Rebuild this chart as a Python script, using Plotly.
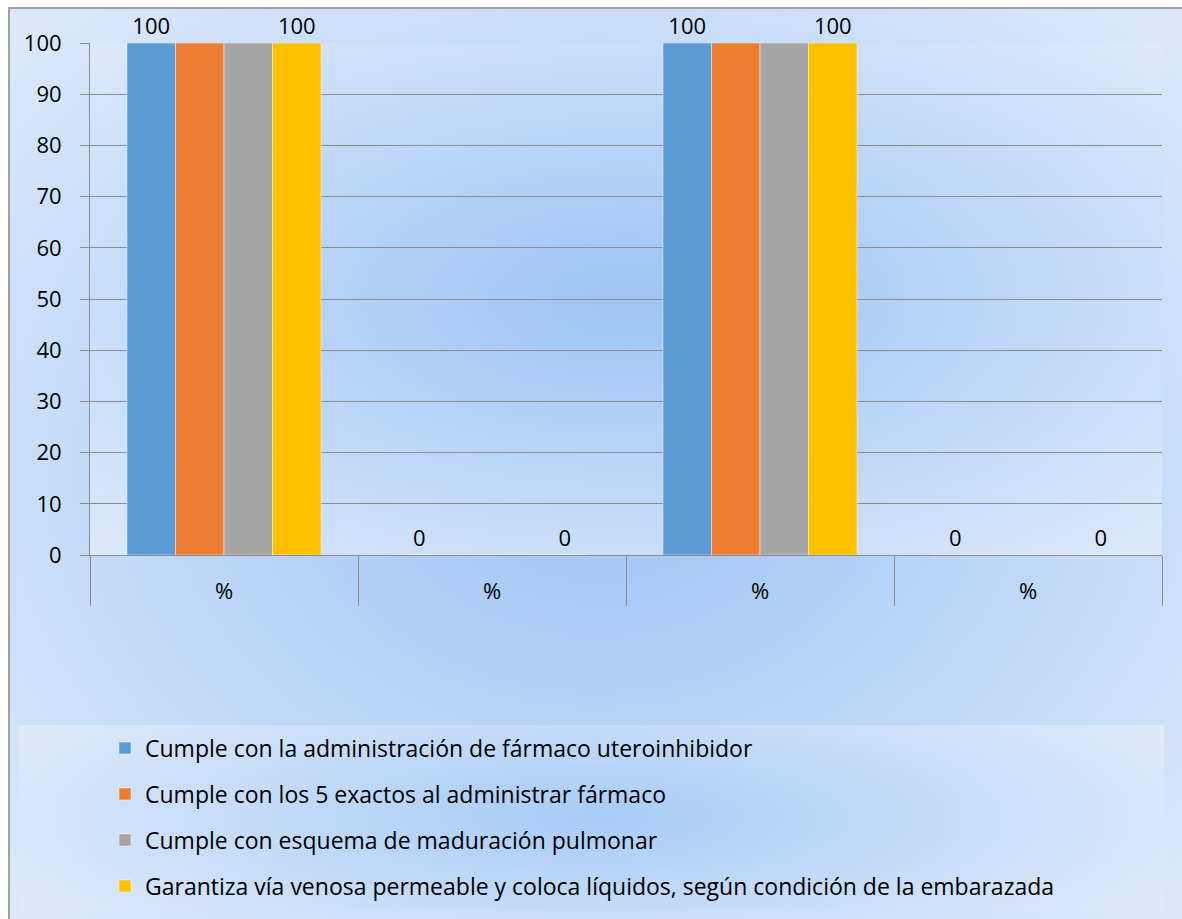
import base64
import struct
import zlib

import numpy as np
import plotly.graph_objects as go

# ---- data -------------------------------------------------------------
tick_labels = ["%", "%", "%", "%"]
series_names = [
    "Cumple con la administración de fármaco uteroinhibidor",
    "Cumple con los 5 exactos al administrar fármaco",
    "Cumple con esquema de maduración pulmonar",
    "Garantiza vía venosa permeable y coloca líquidos, según condición de la embarazada",
]
administracion = [100, 0, 100, 0]
cinco_exactos = [100, 0, 100, 0]
maduracion = [100, 0, 100, 0]
via_venosa = [100, 0, 100, 0]
series_values = [administracion, cinco_exactos, maduracion, via_venosa]
labelled = [True, False, False, True]

# ---- styling ----------------------------------------------------------
colors = ["#5B9BD5", "#ED7D31", "#A5A5A5", "#FFC000"]
FONT = "Open Sans"
W, H = 1182, 919
L, R, T, B = 90, 20, 43, 364          # plot-area margins in px
PW, PH = W - L - R, H - T - B


def px_x(x):
    return (x - L) / PW


def px_y(y):
    return (H - B - y) / PH


# ---- gradient backdrop (chart area, plot area, legend box) ------------
yy, xx = np.mgrid[0:H, 0:W].astype(float)
inner = np.array([157, 196, 245], float)
outer = np.array([222, 234, 251], float)


def radial(x0, y0, x1, y1, c_in, c_out, wy=1.0):
    cx, cy = (x0 + x1) / 2, (y0 + y1) / 2
    hw, hh = (x1 - x0) / 2, (y1 - y0) / 2
    r = np.sqrt(((xx - cx) / hw) ** 2 + wy * ((yy - cy) / hh) ** 2) / np.sqrt(1 + wy)
    r = np.clip(r, 0, 1)[..., None]
    return c_in * (1 - r) + c_out * r


img = np.full((H, W, 3), 255.0)
chart = radial(8, 7, 1186, 925, inner, outer)
plot = radial(90, 43, 1162, 555, inner, outer)
legend_bg = radial(19, 725, 1164, 910, np.array([168, 204, 246.0]),
                   np.array([224, 235, 251.0]), wy=0.35)

img[7:, 8:] = chart[7:, 8:]
img[43:555, 90:1162] = plot[43:555, 90:1162]
img[725:910, 19:1164] = legend_bg[725:910, 19:1164]
img[7:, 8:10] = [160, 160, 160]
img[7:9, 8:] = [160, 160, 160]
img = np.clip(img, 0, 255).astype(np.uint8)


def to_png(arr):
    h, w, _ = arr.shape
    a = arr.astype(np.int16)
    sub = a.copy()
    sub[:, 1:] = (a[:, 1:] - a[:, :-1]) % 256
    sub = sub.astype(np.uint8)
    raw = b"".join(b"\x01" + sub[i].tobytes() for i in range(h))

    def chunk(tag, data):
        return (struct.pack(">I", len(data)) + tag + data
                + struct.pack(">I", zlib.crc32(tag + data) & 0xFFFFFFFF))

    return (b"\x89PNG\r\n\x1a\n"
            + chunk(b"IHDR", struct.pack(">IIBBBBB", w, h, 8, 2, 0, 0, 0))
            + chunk(b"IDAT", zlib.compress(raw, 9))
            + chunk(b"IEND", b""))


bg_uri = "data:image/png;base64," + base64.b64encode(to_png(img)).decode()

# ---- figure -----------------------------------------------------------
fig = go.Figure()
legend_ids = ["legend", "legend2", "legend3", "legend4"]
positions = list(range(len(tick_labels)))
for name, vals, col, lab, lg in zip(series_names, series_values, colors,
                                    labelled, legend_ids):
    fig.add_trace(go.Bar(
        x=positions, y=vals, name=name,
        marker=dict(color=col, line=dict(width=1, color="rgba(255,255,255,0.45)")),
        text=[str(v) for v in vals] if lab else None,
        textposition="outside",
        textfont=dict(family=FONT, size=22, color="#000000"),
        cliponaxis=False,
        legend=lg,
    ))

grid = "#8C8C8C"
legend_rows = [748, 794, 840, 886]
legend_layouts = {}
for lg, row in zip(legend_ids, legend_rows):
    legend_layouts[lg] = dict(
        x=px_x(105), xanchor="left", y=px_y(row), yanchor="middle",
        bgcolor="rgba(0,0,0,0)", borderwidth=0,
        font=dict(family=FONT, size=23, color="#000000"),
    )

fig.update_layout(
    width=W, height=H,
    margin=dict(l=L, r=R, t=T, b=B, pad=0),
    paper_bgcolor="white",
    plot_bgcolor="rgba(0,0,0,0)",
    barmode="group", bargap=0.276, bargroupgap=0,
    showlegend=True,
    font=dict(family=FONT, size=21, color="#000000"),
    images=[dict(source=bg_uri, xref="paper", yref="paper",
                 x=px_x(0), y=px_y(0), sizex=W / PW, sizey=H / PH,
                 xanchor="left", yanchor="top", sizing="stretch",
                 layer="below")],
    xaxis=dict(
        range=[-0.5, 3.5], tickmode="array", tickvals=positions,
        ticktext=tick_labels, showgrid=False, zeroline=False,
        showline=True, linecolor=grid, linewidth=1,
        ticks="", ticklabelstandoff=17,
        tickfont=dict(family=FONT, size=22, color="#000000"),
        minor=dict(tickmode="array", tickvals=[-0.5, 0.5, 1.5, 2.5, 3.5],
                   ticks="outside", ticklen=50, tickwidth=1,
                   tickcolor=grid, showgrid=False),
    ),
    yaxis=dict(
        range=[0, 100], tickmode="linear", tick0=0, dtick=10,
        showgrid=True, gridcolor=grid, gridwidth=1, zeroline=False,
        showline=True, linecolor=grid, linewidth=1,
        ticks="outside", ticklen=9, tickcolor=grid, ticklabelstandoff=14,
        tickfont=dict(family=FONT, size=22, color="#000000"),
    ),
    **legend_layouts,
)

fig.write_html("out.html")
